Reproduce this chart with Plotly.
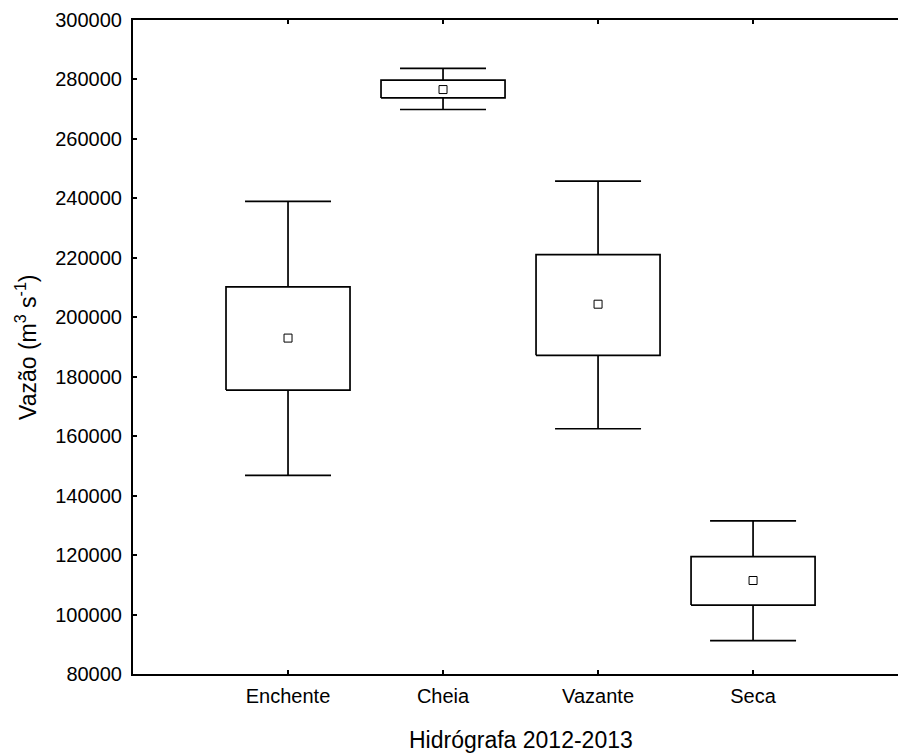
import plotly.graph_objects as go

categories = ["Enchente", "Cheia", "Vazante", "Seca"]
whisker_high = [239000, 283700, 245800, 131500]
box_high = [210200, 279800, 221100, 119500]
means = [193000, 276600, 204400, 111450]
box_low = [175500, 273800, 187200, 103200]
whisker_low = [146800, 269900, 162500, 91200]
y_ticks = [80000, 100000, 120000, 140000, 160000, 180000, 200000,
           220000, 240000, 260000, 280000, 300000]

W, H = 898, 756
ML, MR, MT, MB = 133, 0, 20, 82
pw = W - ML - MR
ph = H - MT - MB

pos = list(range(len(categories)))
up_len = [w - m for w, m in zip(whisker_high, means)]
down_len = [m - w for m, w in zip(means, whisker_low)]

LW = 1.7
HALF = 0.4  # half box width in category units
fig = go.Figure()
# whiskers (from mean to extremes; the part inside the box is covered by the box)
fig.add_trace(go.Scatter(
    x=pos, y=means, mode="none",
    error_y=dict(type="data", symmetric=False, array=up_len,
                 arrayminus=down_len,
                 color="black", thickness=LW, width=43),
    showlegend=False, hoverinfo="skip",
))
# boxes
for p, lo, hi in zip(pos, box_low, box_high):
    fig.add_trace(go.Scatter(
        x=[p - HALF, p + HALF, p + HALF, p - HALF, p - HALF],
        y=[lo, lo, hi, hi, lo],
        mode="lines", fill="toself", fillcolor="white",
        line=dict(color="black", width=LW),
        showlegend=False, hoverinfo="skip",
    ))
# means
fig.add_trace(go.Scatter(
    x=pos, y=means, mode="markers",
    marker=dict(symbol="square-open", size=8, color="black",
                line=dict(width=1, color="black")),
    showlegend=False, hoverinfo="skip",
))

font = "Liberation Sans, Arial, sans-serif"
fig.update_layout(
    width=W, height=H,
    margin=dict(l=ML, r=MR, t=MT, b=MB, pad=0),
    paper_bgcolor="white", plot_bgcolor="white",
    font=dict(family=font, color="black", size=20),
    xaxis=dict(
        range=[-1, 3.935], tickvals=pos, ticktext=categories,
        showline=True, linecolor="black", linewidth=2, mirror="ticks",
        ticks="inside", ticklen=4, tickwidth=1.5, tickcolor="black",
        showgrid=False, zeroline=False, ticklabelstandoff=3,
        tickfont=dict(size=20, family=font, color="black"),
    ),
    yaxis=dict(
        range=[80000, 300000], tickvals=y_ticks,
        ticktext=[str(v) for v in y_ticks],
        showline=True, linecolor="black", linewidth=2,
        ticks="inside", ticklen=4, tickwidth=1.5, tickcolor="black",
        showgrid=False, zeroline=False, ticklabelstandoff=5,
        tickfont=dict(size=20, family=font, color="black"),
    ),
    annotations=[
        dict(text="Hidrógrafa 2012-2013", xref="paper", yref="paper",
             x=(521 - ML) / pw, y=-(740 - (MT + ph)) / ph,
             xanchor="center", yanchor="middle", showarrow=False,
             font=dict(size=23, family=font, color="black")),
        dict(text="Vazão (m<sup>3</sup> s<sup>-1</sup>)", xref="paper", yref="paper",
             x=(26 - ML) / pw, y=0.5, textangle=-90,
             xanchor="center", yanchor="middle", showarrow=False,
             font=dict(size=23, family=font, color="black")),
    ],
)

fig.write_html("out.html")
